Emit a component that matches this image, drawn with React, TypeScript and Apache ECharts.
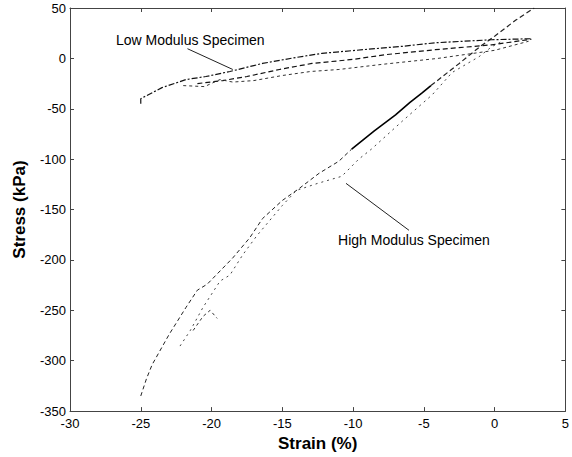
import React, { useEffect, useRef } from "react";
import * as echarts from "echarts";

// Axis ticks
const xTicks = [-30, -25, -20, -15, -10, -5, 0, 5];
const yTicks = [-350, -300, -250, -200, -150, -100, -50, 0, 50];

// High modulus specimen: main loading curve
const highMainX = [-25, -24.6, -24.2, -23, -21.8, -21, -20.3, -18.5, -17.3, -16.4, -15, -13.8, -12.4, -11, -10.1];
const highMainY = [-335, -318, -304, -274, -247, -230, -224, -198, -178, -159, -141, -129, -114, -102, -90];
// High modulus: solid steep portion
const highSolidX = [-10.1, -8.5, -7, -6, -5.1, -4.5];
const highSolidY = [-90, -72, -56, -44, -34, -27];
// High modulus: upper continuation
const highTopX = [-4.5, -2.5, -1, 0, 1.5, 2.8];
const highTopY = [-27, -5, 12, 22, 38, 50];
// High modulus: second (unloading) branch
const highUnloadX = [0.4, -0.2, -1.1, -3, -4.4, -6.5, -8.7, -9.6, -10.8, -12.5, -14, -15, -16.8, -17.8, -18.7, -19.4, -20.6, -21.5, -22.3];
const highUnloadY = [16, 11.6, 1.7, -14, -36, -62, -90, -100, -117, -124, -131, -146, -176, -195, -215, -221, -247, -270, -287];
// High modulus: third faint branch
const highThirdX = [-21.3, -20.6, -20.1, -19.6];
const highThirdY = [-270, -256, -250, -258];

// Low modulus specimen: loops
const lowUpperX = [-25, -25, -23.5, -21.8, -20.4, -18.7, -16.4, -14, -12.2, -9, -6.5, -4.2, -0.2, 2.6];
const lowUpperY = [-45, -40, -29, -21, -18, -13, -5, 1, 5, 9, 12, 15.5, 18.5, 19.5];
const lowMidX = [-21, -19.2, -17.5, -15.2, -12.9, -10, -7.7, -4.2, -0.2, 2.6];
const lowMidY = [-25, -22, -18, -11, -5, -1, 3.7, 8.6, 13.5, 19];
const lowLowX = [-22, -20.5, -19.4, -18.5, -17, -15, -13, -11, -8, -4, 0, 2.4];
const lowLowY = [-27, -28, -21, -23.5, -22, -17, -13, -11, -6, 0, 8, 17];

// Annotations (data coords)
const annotTexts = ["Low Modulus Specimen", "High Modulus Specimen"];
const annotTextPos = [[-21.5, 18.5], [-5.7, -180.5]];
const annotLineFrom = [[-21.7, 9.6], [-10.5, -124]];
const annotLineTo = [[-18.5, -11], [-6.05, -170.6]];

const zip = (xs: number[], ys: number[]) => xs.map((x, i) => [x, ys[i]]);

const lineSeries = (data: number[][], type: any, width = 1, color = "#111") => ({
  type: "line",
  data,
  showSymbol: false,
  symbol: "none",
  smooth: false,
  lineStyle: { color, width, type },
  z: 3,
});

export default function App() {
  const ref = useRef<HTMLDivElement>(null);
  useEffect(() => {
    if (!ref.current) return;
    const chart = echarts.init(ref.current, null, { renderer: "svg" });
    const font = "'Liberation Sans', Arial, Helvetica, sans-serif";
    const axisCommon = {
      type: "value" as const,
      axisLine: { show: true, onZero: false, lineStyle: { color: "#444", width: 1 } },
      axisTick: { show: true, inside: true, length: 4, lineStyle: { color: "#444" } },
      splitLine: { show: false },
    };
    chart.setOption({
      animation: false,
      backgroundColor: "#fff",
      grid: { left: 70, right: 5, top: 8, bottom: 45, containLabel: false },
      xAxis: [
        {
          ...axisCommon,
          min: -30,
          max: 5,
          interval: 5,
          name: "Strain (%)",
          nameLocation: "middle",
          nameGap: 21,
          nameTextStyle: { fontFamily: font, fontSize: 17, fontWeight: "bold", color: "#000" },
          axisLabel: {
            fontFamily: font,
            fontSize: 13,
            color: "#000",
            margin: 6,
            formatter: (v: number) => (xTicks.includes(v) ? String(v) : ""),
          },
        },
        {
          ...axisCommon,
          position: "top",
          min: -30,
          max: 5,
          interval: 5,
          axisLabel: { show: false },
        },
      ],
      yAxis: [
        {
          ...axisCommon,
          min: -350,
          max: 50,
          interval: 50,
          name: "Stress (kPa)",
          nameLocation: "middle",
          nameGap: 42,
          nameTextStyle: { fontFamily: font, fontSize: 17, fontWeight: "bold", color: "#000" },
          axisLabel: {
            fontFamily: font,
            fontSize: 13,
            color: "#000",
            margin: 4,
            formatter: (v: number) => (yTicks.includes(v) ? String(v) : ""),
          },
        },
        {
          ...axisCommon,
          position: "right",
          min: -350,
          max: 50,
          interval: 50,
          axisLabel: { show: false },
        },
      ],
      series: [
        lineSeries(zip(highMainX, highMainY), [4, 3], 1, "#222"),
        lineSeries(zip(highSolidX, highSolidY), "solid", 1.6, "#000"),
        lineSeries(zip(highTopX, highTopY), [5, 3], 1.2, "#222"),
        lineSeries(zip(highUnloadX, highUnloadY), [2, 4], 1, "#444"),
        lineSeries(zip(highThirdX, highThirdY), [3, 3], 1, "#333"),
        lineSeries(zip(lowUpperX, lowUpperY), [6, 2, 2, 2], 1.2, "#111"),
        lineSeries(zip(lowMidX, lowMidY), [5, 3], 1.2, "#111"),
        lineSeries(zip(lowLowX, lowLowY), [3, 3], 1, "#333"),
      ],
    });

    const graphics: any[] = [];
    annotTexts.forEach((t, i) => {
      const p = chart.convertToPixel({ xAxisIndex: 0, yAxisIndex: 0 }, annotTextPos[i]) as number[];
      const a = chart.convertToPixel({ xAxisIndex: 0, yAxisIndex: 0 }, annotLineFrom[i]) as number[];
      const b = chart.convertToPixel({ xAxisIndex: 0, yAxisIndex: 0 }, annotLineTo[i]) as number[];
      graphics.push({
        type: "text",
        x: p[0],
        y: p[1],
        style: {
          text: t,
          fontFamily: font,
          fontSize: 14,
          fill: "#000",
          align: "center",
          verticalAlign: "middle",
        },
      });
      graphics.push({
        type: "line",
        shape: { x1: a[0], y1: a[1], x2: b[0], y2: b[1] },
        style: { stroke: "#222", lineWidth: 1 },
      });
    });
    chart.setOption({ graphic: graphics });

    return () => chart.dispose();
  }, []);
  return (
    <div
      ref={ref}
      style={{ position: "absolute", left: 0, top: 0, width: 572, height: 457 }}
    />
  );
}
